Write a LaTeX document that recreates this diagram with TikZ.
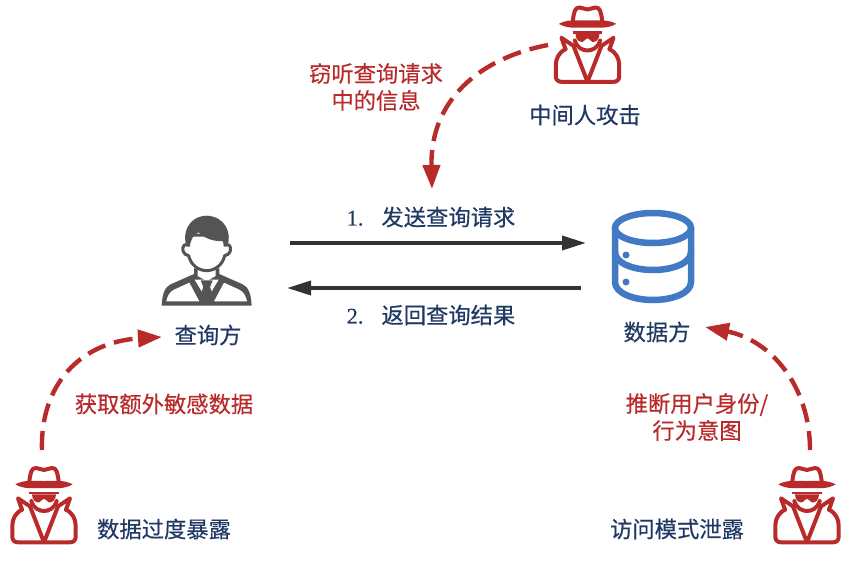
\documentclass[tikz,border=0pt]{standalone}
\usepackage{fontspec}
\usetikzlibrary{arrows.meta,calc}
\setmainfont[FakeBold=0.35]{Noto Sans CJK SC}
\newfontfamily\numfont[FakeBold=0.2]{Liberation Serif}
\definecolor{spyred}{HTML}{B92B2B}
\definecolor{navy}{HTML}{1F3864}
\definecolor{dbblue}{HTML}{4179C4}
\definecolor{persongray}{HTML}{545454}
\definecolor{arrowgray}{HTML}{333333}
\tikzset{
  lbl/.style={font=\fontsize{22.3}{27}\selectfont, text=navy, inner sep=0pt, align=center},
  attack/.style={font=\fontsize{22.3}{27}\selectfont, text=spyred, inner sep=0pt, align=center},
  flow/.style={line width=3.6pt, arrowgray, -{Triangle[length=24pt,width=14pt]}},
  spyline/.style={line width=4.4pt, spyred, dash pattern=on 19pt off 9pt, -{Triangle[length=24pt,width=17pt]}},
  spy/.pic={
    \begin{scope}[scale=1/3, line width=4pt, draw=spyred, line join=round, line cap=round]
      % crown
      \draw (-44,-78) .. controls (-40,-105) and (-38,-117) .. (-24,-117)
            .. controls (-14,-117) and (-8,-111) .. (0,-111)
            .. controls (8,-111) and (14,-117) .. (24,-117)
            .. controls (38,-117) and (40,-105) .. (44,-78);
      % brim
      \fill[spyred] (-86,-68) .. controls (-60,-82) and (-35,-78) .. (0,-78)
            .. controls (35,-78) and (60,-82) .. (86,-68)
            .. controls (60,-52) and (30,-57) .. (0,-57)
            .. controls (-30,-57) and (-60,-52) .. (-86,-68) -- cycle;
      % band
      \fill[spyred] (-44,-46) rectangle (44,-38);
      % sunglasses
      \fill[spyred] (-36,-38) -- (36,-38) .. controls (36,-20) and (24,-12) .. (14,-14)
            .. controls (8,-16) and (6,-25) .. (0,-25)
            .. controls (-6,-25) and (-8,-16) .. (-14,-14)
            .. controls (-24,-12) and (-36,-20) .. (-36,-38) -- cycle;
      % chin
      \draw (-38,-18) .. controls (-32,4) and (-14,12) .. (0,12)
            .. controls (14,12) and (32,4) .. (38,-18);
      % collar and V
      \draw (-42,-2) -- (-78,-26) -- (-66,8);
      \draw (42,-2) -- (78,-26) -- (66,8);
      \draw (-42,-2) -- (0,106) -- (42,-2);
      % body
      \draw (-66,8) .. controls (-86,18) and (-95,36) .. (-95,56)
            -- (-95,90) .. controls (-95,100) and (-88,106) .. (-78,106)
            -- (78,106) .. controls (88,106) and (95,100) .. (95,90)
            -- (95,56) .. controls (95,36) and (86,18) .. (66,8);
    \end{scope}
  }
}
\begin{document}
\begin{tikzpicture}[x=1pt,y=-1pt]
\useasboundingbox (0,0) rectangle (857,571);
\fill[white] (0,0) rectangle (857,571);

% spies
\pic at (587.5,46.5) {spy};
\pic at (44,507) {spy};
\pic at (807,507) {spy};

% person (drawn in crop units, a third of a pixel)
\begin{scope}[shift={(150,205)},scale=1/3,line join=round]
  % suit silhouette
  \fill[persongray] (132,190) -- (132,207) -- (62,238)
     .. controls (45,246) and (37,265) .. (35,302) -- (305,302)
     .. controls (303,265) and (295,246) .. (278,238) -- (208,207) -- (208,190) -- cycle;
  % white panels
  \fill[white] (118,233) -- (72,254) .. controls (60,260) and (52,272) .. (49,289) -- (148,289) -- cycle;
  \fill[white] (222,233) -- (268,254) .. controls (280,260) and (288,272) .. (291,289) -- (192,289) -- cycle;
  \fill[white] (143,190) -- (143,213) -- (170,228) -- (197,213) -- (197,190) -- cycle;
  \fill[white] (134,224) -- (206,224) -- (170,284) -- cycle;
  % tie
  \fill[persongray] (152,226) -- (188,226) -- (180,246) -- (192,279) -- (170,292) -- (148,279) -- (160,246) -- cycle;
  % head
  \filldraw[persongray,line width=3pt,fill=white] (113,118)
     .. controls (95,115) and (94,140) .. (106,148) -- (116,152)
     .. controls (122,180) and (146,197) .. (170,197)
     .. controls (194,197) and (218,180) .. (224,152) -- (234,148)
     .. controls (246,140) and (245,115) .. (227,118) -- (227,90) -- (113,90) -- cycle;
  % hair
  \fill[persongray] (110,125) .. controls (95,85) and (115,34) .. (170,32)
     .. controls (225,34) and (248,85) .. (231,125)
     -- (221,125) .. controls (221,118) and (220,112) .. (218,108)
     .. controls (195,110) and (165,102) .. (146,82)
     .. controls (132,88) and (121,102) .. (120,125) -- cycle;
\end{scope}

% database
\begin{scope}[shift={(653,255)},dbblue,line width=6.5pt]
  \draw (0,-27) ellipse [x radius=38, y radius=15];
  \draw (-38,-27) -- (-38,27) .. controls (-38,38) and (-20,45) .. (0,45)
        .. controls (20,45) and (38,38) .. (38,27) -- (38,-27);
  \draw (-38,-3) .. controls (-38,8) and (-20,15) .. (0,15)
        .. controls (20,15) and (38,8) .. (38,-3);
  \fill (-27,0) circle (3.5);
  \fill (-27,27) circle (3.5);
\end{scope}

% labels
\node[attack] (eaves) at (376,87) {窃听查询请求\\中的信息};
\node[lbl] (mitm) at (585,115) {中间人攻击};
\node[lbl] (send) at (431,217) {{\numfont 1.}\hspace{18pt}发送查询请求};
\node[lbl] (ret) at (431,315) {{\numfont 2.}\hspace{18pt}返回查询结果};
\node[lbl] (querier) at (208,335) {查询方};
\node[lbl] (owner) at (657,332) {数据方};
\node[attack] (extra) at (164,404) {获取额外敏感数据};
\node[attack] (infer) at (697,417) {推断用户身份/\\行为意图};
\node[lbl] (overexp) at (164,529) {数据过度暴露};
\node[lbl] (pattern) at (677,529) {访问模式泄露};

% connector anchors
\coordinate (qr) at (290,243);
\coordinate (dl) at (586,243);
\coordinate (dl2) at (581,288);
\coordinate (ql) at (287,288);
\coordinate (spyT) at (548,45);
\coordinate (reqT) at (432,189);
\coordinate (spyL) at (42,450);
\coordinate (qT) at (162,337);
\coordinate (spyR) at (810,450);
\coordinate (oT) at (705,327);

\draw[flow] (qr) -- (dl);
\draw[flow] (dl2) -- (ql);
\draw[spyline] (spyT) .. controls (480,58) and (430,100) .. (reqT);
\draw[spyline] (spyL) .. controls (40,385) and (80,342) .. (qT);
\draw[spyline] (spyR) .. controls (810,385) and (770,340) .. (oT);
\end{tikzpicture}
\end{document}
